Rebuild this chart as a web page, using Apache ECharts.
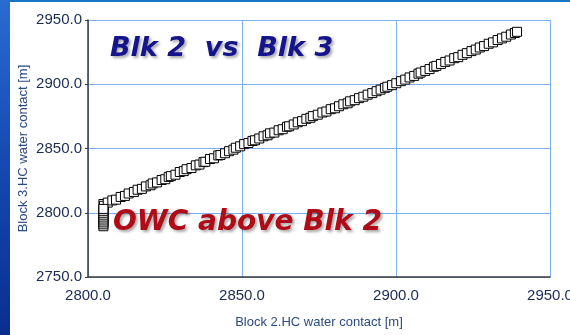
<!DOCTYPE html>
<html><head><meta charset="utf-8">
<script src="https://cdn.jsdelivr.net/npm/echarts@6/dist/echarts.min.js"></script>
<style>
html,body{margin:0;padding:0;}
#wrap{position:relative;width:570px;height:335px;background:#1a74c4;overflow:hidden;}
#leftband{position:absolute;left:0;top:0;width:10px;height:335px;background:linear-gradient(180deg,#2a6cd0 0%,#1548b0 50%,#0a2e90 100%);}
#chart{position:absolute;left:10px;top:2px;width:560px;height:333px;background:#fff;}
</style></head>
<body><div id="wrap"><div id="leftband"></div><div id="chart"></div></div>
<script>
// Block 2 HC water contact (x) vs Block 3 HC water contact (y), metres
const blk2 = [2805.0,2805.2,2806.4,2807.9,2809.1,2810.6,2812.0,2813.2,2814.9,2816.1,2817.5,2818.8,2820.3,2821.0,2822.4,2823.9,2825.1,2826.2,2826.9,2828.4,2829.8,2831.1,2832.0,2833.6,2835.0,2836.2,2837.5,2838.1,2839.6,2840.9,2842.3,2843.0,2844.5,2845.8,2847.2,2848.0,2849.4,2850.7,2852.1,2853.4,2854.2,2855.6,2857.0,2858.3,2859.1,2860.5,2861.9,2863.2,2864.6,2865.3,2866.8,2868.1,2869.5,2870.9,2872.2,2873.0,2874.6,2876.1,2877.4,2878.8,2880.2,2881.5,2882.9,2884.3,2885.1,2886.6,2888.0,2889.4,2890.8,2892.3,2893.7,2895.0,2896.4,2897.2,2898.7,2900.1,2901.6,2903.0,2904.4,2905.9,2907.3,2908.0,2909.5,2910.9,2912.3,2913.1,2914.6,2916.0,2917.4,2918.9,2920.2,2921.6,2923.0,2924.5,2925.9,2927.2,2928.6,2930.1,2931.5,2933.0,2934.4,2935.8,2937.3,2938.6,2939.3,
  2805.0,2805.0,2805.0,2805.0,2805.0,2805.0,2805.0,2805.0,2805.0,2805.0];
const blk3 = [2806.8,2805.4,2807.9,2809.6,2810.2,2812.3,2813.1,2815.0,2816.2,2817.9,2818.6,2820.5,2821.4,2822.8,2823.6,2825.5,2826.1,2827.9,2828.5,2829.6,2831.7,2832.4,2833.9,2834.8,2836.9,2837.5,2839.4,2839.7,2841.8,2842.4,2844.6,2844.9,2846.3,2847.9,2849.1,2850.6,2851.7,2853.4,2854.3,2855.9,2856.4,2857.8,2859.5,2860.3,2861.8,2862.4,2864.2,2865.0,2866.9,2867.3,2868.7,2870.4,2871.3,2873.1,2873.9,2875.2,2876.3,2878.0,2878.8,2880.6,2881.3,2882.9,2884.4,2885.2,2886.7,2887.6,2889.2,2890.3,2891.9,2893.1,2894.6,2895.8,2897.2,2898.1,2899.3,2900.8,2902.4,2903.6,2905.3,2906.5,2908.2,2909.1,2910.4,2911.8,2913.6,2914.3,2915.8,2917.4,2918.5,2920.3,2921.1,2922.9,2924.2,2925.8,2927.0,2928.6,2929.7,2931.5,2932.6,2934.4,2935.7,2937.0,2938.7,2939.9,2940.8,
  2789.5,2791.0,2792.5,2794.0,2795.5,2797.0,2798.5,2800.0,2801.5,2803.0];
const xTicks = [2800, 2850, 2900, 2950];
const yTicks = [2750, 2800, 2850, 2900, 2950];
const xName = 'Block 2.HC water contact [m]';
const yName = 'Block 3.HC water contact [m]';
const titleText = 'Blk 2  vs  Blk 3';
const noteText = 'OWC above Blk 2';

const pts = blk2.map((x, i) => [x, blk3[i]]);
const chart = echarts.init(document.getElementById('chart'), null, {renderer: 'canvas'});
const tickFmt = v => v.toFixed(1);
chart.setOption({
  animation: false,
  backgroundColor: '#fff',
  grid: {left: 78, right: 20, top: 18, bottom: 58, containLabel: false, outerBoundsMode: 'none'},
  xAxis: {
    type: 'value', min: xTicks[0], max: xTicks[xTicks.length-1], interval: 50,
    name: xName, nameLocation: 'middle', nameGap: 39,
    nameTextStyle: {color: '#2a4a80', fontSize: 13, fontFamily: 'Liberation Sans'},
    axisLine: {show: true, onZero: false, lineStyle: {color: '#3a3a3a', width: 1.5}},
    axisTick: {show: false},
    axisLabel: {formatter: tickFmt, color: '#1a2a50', fontSize: 15, fontFamily: 'Liberation Sans', margin: 11},
    splitLine: {show: true, lineStyle: {color: '#78b2f2', width: 1}}
  },
  yAxis: {
    type: 'value', min: yTicks[0], max: yTicks[yTicks.length-1], interval: 50,
    name: yName, nameLocation: 'middle', nameGap: 58, nameMoveOverlap: false,
    nameTextStyle: {color: '#2a4a80', fontSize: 13, fontFamily: 'Liberation Sans'},
    axisLine: {show: true, onZero: false, lineStyle: {color: '#3a3a3a', width: 1.5}},
    axisTick: {show: true, inside: false, length: 3, lineStyle: {color: '#3a3a3a'}},
    axisLabel: {formatter: tickFmt, color: '#1a2a50', fontSize: 15, fontFamily: 'Liberation Sans', margin: 6},
    splitLine: {show: true, lineStyle: {color: '#78b2f2', width: 1}}
  },
  series: [{
    type: 'scatter', data: pts, symbol: 'rect', symbolSize: 9,
    itemStyle: {color: '#ffffff', borderColor: '#000000', borderWidth: 1, opacity: 1}
  }],
  graphic: [
    {type: 'text', left: 100, top: 33, z: 100, style: {text: titleText, fill: '#14148c',
      font: 'italic bold 27px "DejaVu Sans"', textShadowColor: 'rgba(0,0,0,0.35)', textShadowBlur: 3, textShadowOffsetX: 2, textShadowOffsetY: 2}},
    {type: 'text', left: 103, top: 207, z: 100, style: {text: noteText, fill: '#b00c18',
      font: 'italic bold 28px "DejaVu Sans"', textShadowColor: 'rgba(0,0,0,0.35)', textShadowBlur: 3, textShadowOffsetX: 2, textShadowOffsetY: 2}}
  ]
});
</script></body></html>
